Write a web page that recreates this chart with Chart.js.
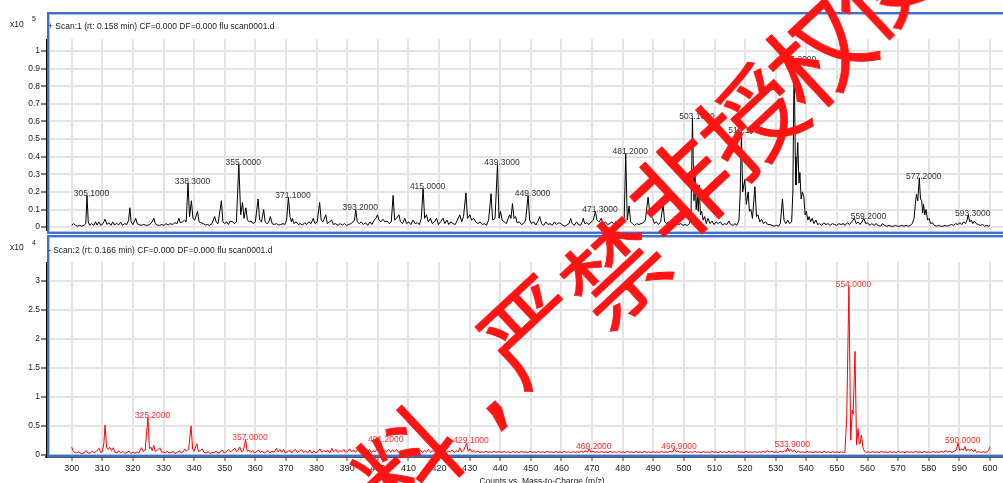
<!DOCTYPE html>
<html><head><meta charset="utf-8">
<script src="https://cdn.jsdelivr.net/npm/chart.js@4"></script>
<style>
html,body{margin:0;padding:0;background:#fff;width:1003px;height:483px;overflow:hidden;}
#wrap{position:relative;width:1003px;height:483px;font-family:"Liberation Sans",Arial,sans-serif;}
canvas{position:absolute;left:0;}
#c1{top:0;} #c2{top:236px;}
.frame{position:absolute;left:47px;width:956px;height:222px;box-sizing:border-box;border:2px solid #3e6fcd;border-right:none;box-shadow:inset 1px 1px 0 #aac3ef, inset 0 -1px 0 #aac3ef;pointer-events:none;}
.txt{position:absolute;white-space:nowrap;font-size:8.5px;color:#222;line-height:1;}
.sup{font-size:7px;}
.wm{position:absolute;font-family:"Noto Sans CJK SC",sans-serif;font-weight:normal;font-size:100px;line-height:1;color:#ff1414;transform:translate(-50%,-50%) rotate(-43deg);white-space:nowrap;pointer-events:none;-webkit-text-stroke:0.8px #ff1414;}
.wm.punct{font-family:"DejaVu Sans",sans-serif;font-size:112px;}
</style>
</head><body>
<div id="wrap">
<canvas id="c1" width="1003" height="236"></canvas>
<canvas id="c2" width="1003" height="247"></canvas>
<div class="frame" style="top:12px"></div>
<div class="frame" style="top:235px"></div>
<div class="txt" style="left:10px;top:20px">x10</div>
<div class="txt sup" style="left:32px;top:15px">5</div>
<div class="txt" style="left:48px;top:22px">+ Scan:1 (rt: 0.158 min) CF=0.000 DF=0.000 flu scan0001.d</div>
<div class="txt" style="left:10px;top:243px">x10</div>
<div class="txt sup" style="left:32px;top:239px">4</div>
<div class="txt" style="left:48px;top:246px">- Scan:2 (rt: 0.166 min) CF=0.000 DF=0.000 flu scan0001.d</div>
<div class="txt" style="left:542px;top:477px;transform:translateX(-50%)">Counts vs. Mass-to-Charge (m/z)</div>
<div id="wmk"></div>
</div>
<script>
// ---------- data ----------
const xTicks = [300,310,320,330,340,350,360,370,380,390,400,410,420,430,440,450,460,470,480,490,500,510,520,530,540,550,560,570,580,590,600];
const scan1YTicks = [0,0.1,0.2,0.3,0.4,0.5,0.6,0.7,0.8,0.9,1];
const scan2YTicks = [0,0.5,1,1.5,2,2.5,3];

// Scan 1: [m/z, counts x10^5]
const scan1Profile = [
[300,0.01],[300.6,0.02],[301.2,0.012],[301.8,0.005],[302.5,0.01],[303.2,0.006],[304,0.01],[304.6,0.02],[305.0,0.18],[305.4,0.03],[305.9,0.01],[306.5,0.02],[307.2,0.01],[307.8,0.03],[308.3,0.012],[308.9,0.03],[309.5,0.01],[310.2,0.02],[310.9,0.045],[311.5,0.015],[312.2,0.025],[312.8,0.01],[313.4,0.03],[314,0.012],[314.7,0.022],[315.3,0.012],[316,0.028],[316.6,0.01],[317.3,0.02],[318,0.015],[318.6,0.04],[319.0,0.11],[319.4,0.03],[320.0,0.015],[320.9,0.05],[321.4,0.02],[322,0.015],[322.7,0.01],[323.4,0.015],[324,0.012],[324.7,0.01],[325.5,0.015],[326.3,0.03],[326.8,0.05],[327.3,0.02],[328,0.012],[328.7,0.01],[329.4,0.015],[330.1,0.01],[330.8,0.02],[331.5,0.012],[332.2,0.02],[333,0.015],[333.7,0.025],[334.4,0.02],[335.0,0.05],[335.5,0.025],[336.2,0.03],[336.8,0.04],[337.4,0.03],[338.0,0.25],[338.5,0.06],[339.1,0.15],[339.6,0.05],[340.2,0.04],[341.1,0.09],[341.6,0.03],[342.2,0.025],[343,0.02],[343.7,0.012],[344.4,0.015],[345,0.01],[345.8,0.02],[346.7,0.06],[347.2,0.03],[347.8,0.02],[348.9,0.15],[349.4,0.03],[350,0.02],[350.6,0.03],[351.2,0.015],[351.8,0.035],[352.6,0.03],[353.2,0.02],[353.8,0.03],[354.6,0.357],[355.2,0.07],[355.8,0.14],[356.3,0.05],[356.9,0.11],[357.4,0.04],[358,0.03],[358.6,0.035],[359.2,0.02],[360.0,0.03],[360.9,0.16],[361.4,0.04],[362,0.03],[362.7,0.10],[363.2,0.03],[363.8,0.02],[364.4,0.03],[364.9,0.06],[365.5,0.02],[366.2,0.015],[366.9,0.02],[367.6,0.012],[368.3,0.015],[369,0.02],[369.6,0.015],[370.2,0.04],[370.8,0.17],[371.3,0.06],[371.8,0.03],[372.1,0.05],[372.6,0.02],[373.3,0.03],[374,0.015],[374.7,0.02],[375.4,0.012],[376.1,0.025],[376.8,0.015],[377.5,0.03],[378.2,0.02],[378.9,0.05],[379.5,0.02],[380.2,0.03],[381.0,0.14],[381.5,0.04],[382.1,0.03],[383.0,0.07],[383.5,0.02],[384.2,0.03],[384.9,0.04],[385.5,0.015],[386.2,0.02],[387,0.01],[387.7,0.02],[388.4,0.012],[389.1,0.02],[389.8,0.01],[390.5,0.015],[391.2,0.02],[391.9,0.03],[392.4,0.04],[392.8,0.10],[393.3,0.03],[393.9,0.02],[394.6,0.03],[395.3,0.015],[396,0.025],[396.7,0.01],[397.4,0.03],[398.1,0.015],[398.8,0.04],[399.4,0.05],[399.9,0.07],[400.4,0.04],[401,0.03],[401.7,0.045],[402.3,0.03],[403,0.035],[403.7,0.02],[404.4,0.03],[405.0,0.18],[405.5,0.04],[406.1,0.05],[406.9,0.07],[407.4,0.03],[408.1,0.02],[408.8,0.05],[409.4,0.02],[410.1,0.03],[410.8,0.015],[411.5,0.04],[412.2,0.02],[412.9,0.025],[413.6,0.015],[414.2,0.05],[414.8,0.22],[415.3,0.05],[415.9,0.07],[416.5,0.03],[417.2,0.05],[417.8,0.02],[418.5,0.03],[419.2,0.05],[419.8,0.015],[420.5,0.03],[421.3,0.05],[421.9,0.02],[422.6,0.04],[423.2,0.015],[423.9,0.03],[424.6,0.02],[425.3,0.015],[426.0,0.04],[426.8,0.07],[427.4,0.03],[428.0,0.06],[428.8,0.195],[429.3,0.05],[430.1,0.07],[430.6,0.04],[431.3,0.05],[432,0.03],[432.7,0.02],[433.4,0.03],[434.1,0.015],[434.8,0.02],[435.5,0.01],[436.2,0.04],[437.0,0.19],[437.5,0.04],[438.3,0.05],[439.1,0.355],[439.6,0.05],[440.1,0.09],[440.6,0.04],[441.3,0.03],[442,0.02],[442.6,0.05],[443.1,0.07],[443.5,0.05],[444.0,0.134],[444.5,0.05],[445.0,0.06],[445.5,0.025],[446.2,0.03],[446.9,0.015],[447.6,0.02],[448.3,0.04],[449.1,0.18],[449.6,0.04],[450.2,0.02],[450.9,0.03],[451.6,0.012],[452.2,0.03],[452.9,0.06],[453.5,0.02],[454.2,0.01],[454.9,0.03],[455.6,0.015],[456.3,0.02],[457,0.01],[457.7,0.03],[458.4,0.015],[459.1,0.025],[459.8,0.02],[460.5,0.01],[461.2,0.005],[461.9,0.015],[462.5,0.02],[463.0,0.05],[463.5,0.02],[464.2,0.01],[464.9,0.03],[465.5,0.015],[466.2,0.01],[466.8,0.03],[467.1,0.05],[467.6,0.02],[468.3,0.025],[469,0.015],[469.7,0.03],[470.4,0.04],[471.1,0.09],[471.6,0.04],[472.3,0.03],[473,0.05],[473.7,0.02],[474.4,0.03],[475.1,0.015],[475.8,0.02],[476.5,0.03],[477.2,0.015],[477.9,0.035],[478.6,0.02],[479.3,0.03],[480.0,0.02],[480.5,0.05],[481.0,0.42],[481.5,0.04],[482.1,0.12],[482.6,0.03],[483.2,0.02],[483.9,0.01],[484.6,0.02],[485.3,0.015],[486,0.02],[486.7,0.025],[487.4,0.04],[488.3,0.17],[488.8,0.09],[489.3,0.06],[489.8,0.05],[490.4,0.02],[491,0.03],[491.7,0.015],[492.4,0.03],[493.2,0.13],[493.7,0.03],[494.4,0.02],[495,0.03],[495.7,0.015],[496.4,0.03],[497.1,0.06],[497.6,0.02],[498.3,0.015],[499,0.02],[499.7,0.01],[500.4,0.015],[501.1,0.01],[501.8,0.02],[502.3,0.05],[502.8,0.62],[503.3,0.15],[503.6,0.33],[504.0,0.10],[504.4,0.18],[504.7,0.09],[505.0,0.24],[505.4,0.07],[505.8,0.09],[506.3,0.04],[506.8,0.06],[507.3,0.02],[507.9,0.05],[508.5,0.02],[509.2,0.035],[509.8,0.015],[510.5,0.03],[511.2,0.02],[511.9,0.03],[512.6,0.012],[513.3,0.02],[514,0.015],[514.7,0.035],[515.3,0.015],[516,0.01],[516.7,0.02],[517.3,0.01],[518.0,0.04],[518.4,0.2],[518.8,0.54],[519.2,0.2],[519.9,0.27],[520.4,0.13],[521.0,0.2],[521.4,0.09],[521.9,0.1],[522.4,0.05],[523.2,0.23],[523.7,0.06],[524.2,0.07],[524.8,0.03],[525.4,0.045],[526,0.02],[526.7,0.03],[527.4,0.015],[528.1,0.015],[528.8,0.01],[529.5,0.005],[530.2,0.01],[530.9,0.005],[531.5,0.02],[532.2,0.16],[532.7,0.04],[533.3,0.02],[533.9,0.04],[534.5,0.02],[535.2,0.03],[535.6,0.2],[536.0,0.94],[536.4,0.4],[536.6,0.24],[537.2,0.48],[537.6,0.25],[537.9,0.31],[538.3,0.16],[538.7,0.2],[539.2,0.17],[539.6,0.07],[540.0,0.09],[540.5,0.04],[540.9,0.06],[541.4,0.03],[541.9,0.05],[542.5,0.02],[543.1,0.04],[543.7,0.015],[544.3,0.02],[545,0.01],[545.7,0.025],[546.4,0.015],[547.1,0.02],[547.8,0.01],[548.5,0.02],[549.2,0.015],[549.9,0.01],[550.6,0.02],[551.3,0.015],[552,0.02],[552.7,0.01],[553.4,0.025],[554.1,0.015],[554.8,0.03],[555.7,0.05],[556.3,0.02],[556.9,0.03],[557.5,0.015],[558.2,0.03],[558.8,0.05],[559.4,0.02],[560,0.025],[560.7,0.01],[561.4,0.02],[562.1,0.01],[562.8,0.02],[563.5,0.01],[564.2,0.005],[564.9,0.02],[565.6,0.01],[566.3,0.005],[567,0.01],[567.7,0.005],[568.4,0.005],[569.1,0.01],[569.8,0.005],[570.5,0.005],[571.2,0.01],[571.9,0.005],[572.6,0.01],[573.3,0.005],[574,0.01],[574.6,0.02],[575.2,0.05],[575.6,0.13],[576.0,0.186],[576.4,0.15],[576.9,0.28],[577.3,0.16],[577.7,0.15],[578.0,0.08],[578.3,0.13],[578.7,0.07],[579.1,0.10],[579.6,0.04],[580.1,0.05],[580.6,0.02],[581.2,0.025],[581.8,0.01],[582.5,0.005],[583.2,0.01],[583.9,0.005],[584.6,0.005],[585.3,0.01],[586,0.005],[586.7,0.01],[587.4,0.015],[588.1,0.01],[588.8,0.02],[589.5,0.015],[590.2,0.025],[590.8,0.015],[591.4,0.03],[592.0,0.02],[592.5,0.04],[592.9,0.07],[593.4,0.03],[593.9,0.04],[594.4,0.02],[594.9,0.035],[595.5,0.02],[596.2,0.015],[596.9,0.01],[597.6,0.015],[598.3,0.005],[599,0.01],[599.6,0.005],[600,0.01]
];
const scan1LabelText = ['305.1000','338.3000','355.0000','371.1000','393.2000','415.0000','439.3000','449.3000','471.3000','481.2000','503.1000','519.1000','536.2000','559.2000','577.2000','593.3000'];
const scan1LabelMz   = [305.0,338.0,354.6,370.8,392.8,414.8,439.1,449.1,471.1,481.0,502.8,518.8,536.0,558.8,576.9,592.9];
const scan1LabelVal  = [0.18,0.25,0.357,0.17,0.10,0.22,0.355,0.18,0.09,0.42,0.62,0.54,0.94,0.05,0.28,0.07];

// Scan 2: [m/z, counts x10^4]
const scan2Profile = [
[300,0.13],[300.4,0.07],[300.9,0.04],[301.5,0.03],[302.1,0.05],[302.7,0.03],[303.3,0.02],[304,0.03],[304.7,0.07],[305.3,0.03],[306,0.025],[306.7,0.06],[307.3,0.03],[308.1,0.06],[308.9,0.11],[309.4,0.04],[310.0,0.05],[310.5,0.2],[310.9,0.51],[311.4,0.12],[311.9,0.09],[312.4,0.13],[313.0,0.07],[313.6,0.12],[314.1,0.04],[314.8,0.03],[315.4,0.07],[316,0.03],[316.7,0.06],[317.3,0.02],[318,0.04],[318.7,0.06],[319.3,0.02],[320,0.04],[320.7,0.025],[321.3,0.05],[321.9,0.03],[322.8,0.12],[323.4,0.05],[324.0,0.08],[324.9,0.645],[325.4,0.1],[325.9,0.13],[326.3,0.07],[326.8,0.16],[327.3,0.06],[327.9,0.07],[328.8,0.12],[329.4,0.04],[330,0.05],[330.6,0.03],[331.2,0.06],[331.8,0.03],[332.5,0.04],[333.2,0.06],[333.8,0.02],[334.5,0.04],[335.2,0.07],[335.8,0.03],[336.4,0.05],[336.9,0.1],[337.5,0.06],[338.2,0.1],[339.0,0.495],[339.5,0.1],[340.0,0.06],[340.9,0.19],[341.4,0.05],[342.0,0.07],[342.7,0.1],[343.2,0.04],[343.9,0.03],[344.6,0.05],[345.2,0.02],[345.9,0.04],[346.5,0.03],[347.2,0.06],[347.8,0.03],[348.5,0.04],[349.2,0.08],[349.8,0.03],[350.5,0.05],[351.2,0.09],[351.8,0.05],[352.4,0.07],[353.3,0.11],[353.9,0.05],[354.4,0.08],[354.9,0.13],[355.5,0.05],[356.1,0.07],[356.8,0.27],[357.3,0.06],[357.9,0.08],[358.5,0.04],[359.1,0.07],[359.7,0.03],[360.3,0.05],[361,0.08],[361.6,0.04],[362.2,0.06],[362.9,0.03],[363.5,0.05],[364.1,0.07],[364.8,0.03],[365.4,0.06],[366.1,0.04],[366.9,0.11],[367.4,0.05],[368,0.09],[368.6,0.04],[369.2,0.09],[369.8,0.03],[370.5,0.05],[371.2,0.08],[371.8,0.03],[372.5,0.07],[373.1,0.09],[373.7,0.04],[374.4,0.06],[375.1,0.09],[375.7,0.04],[376.4,0.06],[377.1,0.03],[377.8,0.08],[378.4,0.03],[379.1,0.06],[379.8,0.03],[380.5,0.06],[381.1,0.1],[381.7,0.04],[382.4,0.07],[383.1,0.05],[383.7,0.08],[384.3,0.03],[385,0.11],[385.6,0.05],[386.3,0.09],[386.9,0.04],[387.6,0.07],[388.2,0.05],[388.9,0.09],[389.5,0.04],[390.2,0.06],[390.8,0.1],[391.4,0.05],[392.1,0.08],[392.7,0.04],[393.4,0.09],[394,0.05],[394.7,0.07],[395.3,0.04],[396,0.08],[396.6,0.05],[397.3,0.09],[397.9,0.04],[398.6,0.07],[399.2,0.05],[399.8,0.1],[400.4,0.06],[401.1,0.2],[401.6,0.06],[402.2,0.08],[402.9,0.05],[403.5,0.09],[404.2,0.04],[404.8,0.08],[405.5,0.05],[406.1,0.09],[406.8,0.04],[407.4,0.07],[408.1,0.05],[408.7,0.08],[409.4,0.04],[410,0.07],[410.7,0.05],[411.3,0.09],[412,0.04],[412.6,0.07],[413.3,0.05],[413.9,0.08],[414.6,0.04],[415.2,0.07],[415.9,0.05],[416.5,0.09],[417.2,0.04],[417.8,0.07],[418.5,0.05],[419.1,0.06],[419.8,0.04],[420.4,0.06],[421.1,0.04],[421.7,0.07],[422.4,0.04],[423,0.06],[423.7,0.05],[424.3,0.08],[425,0.04],[425.6,0.07],[426.3,0.05],[426.8,0.12],[427.4,0.05],[428.1,0.08],[429.0,0.2],[429.5,0.06],[430.1,0.1],[430.7,0.05],[431.4,0.07],[432,0.04],[432.7,0.06],[433.3,0.04],[434,0.05],[434.6,0.04],[435.3,0.06],[436,0.04],[436.6,0.05],[437.3,0.04],[437.9,0.06],[438.6,0.04],[439.2,0.05],
[440,0.05],[440.6,0.04],[441.3,0.06],[442,0.04],[442.7,0.05],[443.4,0.035],[444.1,0.06],[444.8,0.04],[445.5,0.05],[446.2,0.035],[446.9,0.06],[447.6,0.04],[448.3,0.05],[449,0.035],[449.7,0.06],[450.4,0.04],[451.1,0.05],[451.8,0.035],[452.5,0.055],[453.2,0.04],[453.9,0.05],[454.6,0.035],[455.3,0.06],[456,0.04],[456.7,0.05],[457.4,0.035],[458.1,0.055],[458.8,0.04],[459.5,0.05],[460.2,0.035],[460.9,0.06],[461.6,0.04],[462.3,0.05],[463,0.035],[463.7,0.055],[464.4,0.04],[465.1,0.05],[465.8,0.04],[466.5,0.06],[467.2,0.04],[467.9,0.07],[468.5,0.045],[469.1,0.1],[469.6,0.045],[470.3,0.06],[471,0.04],[471.7,0.05],[472.4,0.035],[473.1,0.055],[473.8,0.04],[474.5,0.05],[475.2,0.035],[475.9,0.06],[476.6,0.04],[477.3,0.05],[478,0.035],[478.7,0.055],[479.4,0.04],[480.1,0.05],[480.8,0.035],[481.5,0.06],[482.2,0.04],[482.9,0.05],[483.6,0.035],[484.3,0.055],[485,0.04],[485.7,0.05],[486.4,0.035],[487.1,0.06],[487.8,0.04],[488.5,0.05],[489.2,0.035],[489.9,0.055],[490.6,0.04],[491.3,0.05],[492,0.035],[492.7,0.06],[493.4,0.04],[494.1,0.05],[494.8,0.04],[495.5,0.06],[496.2,0.045],[496.9,0.1],[497.4,0.05],[498,0.07],[498.6,0.04],[499.3,0.05],[500,0.035],[500.7,0.055],[501.4,0.04],[502.1,0.05],[502.8,0.035],[503.5,0.06],[504.2,0.04],[504.9,0.05],[505.6,0.035],[506.3,0.055],[507,0.04],[507.7,0.05],[508.4,0.035],[509.1,0.06],[509.8,0.04],[510.5,0.05],[511.2,0.035],[511.9,0.055],[512.6,0.04],[513.3,0.05],[514,0.035],[514.7,0.06],[515.4,0.04],[516.1,0.05],[516.8,0.035],[517.5,0.06],[518.2,0.04],[518.9,0.05],[519.6,0.035],[520.3,0.06],[521,0.04],[521.7,0.05],[522.4,0.035],[523.1,0.055],[523.8,0.04],[524.5,0.05],[525.2,0.04],[525.9,0.06],[526.6,0.04],[527.3,0.07],[528,0.045],[528.7,0.06],[529.4,0.04],[530.1,0.05],[530.8,0.04],[531.5,0.06],[532.2,0.045],[532.9,0.07],[533.4,0.05],[533.9,0.12],[534.4,0.06],[535,0.09],[535.5,0.05],[536.1,0.08],[536.7,0.04],[537.4,0.06],[538.1,0.04],[538.8,0.05],[539.5,0.035],[540.2,0.06],[540.9,0.04],[541.6,0.05],[542.3,0.035],[543,0.055],[543.7,0.04],[544.4,0.05],[545.1,0.035],[545.8,0.06],[546.5,0.04],[547.2,0.05],[547.9,0.035],[548.6,0.055],[549.3,0.04],[550,0.05],[550.7,0.035],[551.4,0.05],[552.1,0.04],[552.6,0.04],
[553.2,0.65],[553.9,2.9],[554.5,0.25],[554.8,0.55],[555.0,0.77],[555.3,0.7],[555.9,1.78],[556.4,0.17],[556.9,0.45],[557.3,0.18],[557.6,0.2],[558.0,0.34],[558.5,0.12],[559,0.06],[559.6,0.04],[560.3,0.05],[561,0.035],[561.7,0.055],[562.4,0.04],[563.1,0.05],[563.8,0.035],[564.5,0.06],[565.2,0.04],[565.9,0.05],[566.6,0.035],[567.3,0.055],[568,0.04],[568.7,0.05],[569.4,0.035],[570.1,0.06],[570.8,0.04],[571.5,0.05],[572.2,0.035],[572.9,0.055],[573.6,0.04],[574.3,0.05],[575,0.035],[575.7,0.06],[576.4,0.04],[577.1,0.05],[577.8,0.035],[578.5,0.055],[579.2,0.04],[579.9,0.05],[580.6,0.035],[581.3,0.06],[582,0.04],[582.7,0.05],[583.4,0.04],[584.1,0.06],[584.8,0.04],[585.5,0.07],[586.2,0.045],[586.9,0.06],[587.6,0.04],[588.3,0.06],[589.0,0.08],[589.6,0.2],[590.1,0.07],[590.8,0.1],[591.3,0.08],[591.8,0.14],[592.3,0.06],[592.9,0.1],[593.4,0.07],[594.0,0.09],[594.6,0.05],[595.1,0.09],[595.6,0.04],[596.3,0.05],[597,0.04],[597.7,0.05],[598.4,0.04],[599.1,0.05],[599.6,0.08],[600,0.14]
];
const scan2LabelText = ['325.2000','357.0000','401.2000','429.1000','469.2000','496.9000','533.9000','554.0000','590.0000'];
const scan2LabelMz   = [324.9,356.8,401.1,429.0,469.1,496.9,533.9,553.9,589.6];
const scan2LabelVal  = [0.645,0.27,0.24,0.21,0.12,0.11,0.14,2.91,0.22];

// ---------- rendering ----------
const FONT = '"Liberation Sans", Arial, sans-serif';
const peakLabels = {
  id: 'peakLabels',
  afterDatasetsDraw(chart, args, o) {
    const ctx = chart.ctx, xs = chart.scales.x, ys = chart.scales.y;
    ctx.save();
    ctx.font = '8.5px ' + FONT;
    ctx.fillStyle = o.color;
    ctx.textAlign = 'center';
    ctx.textBaseline = 'middle';
    o.text.forEach((t, i) => {
      ctx.fillText(t, xs.getPixelForValue(o.mz[i]) + 4.5, ys.getPixelForValue(o.val[i]) - 1.5);
    });
    ctx.restore();
  }
};

function makeChart(id, profile, color, yMin, yMax, yTicks, padTop, xHeight, showX, lbl) {
  return new Chart(document.getElementById(id), {
    type: 'line',
    data: { datasets: [{ data: profile.map(p => ({ x: p[0], y: p[1] })), borderColor: color, borderWidth: 1, pointRadius: 0, tension: 0, fill: false }] },
    options: {
      responsive: false, animation: false, devicePixelRatio: 1,
      layout: { padding: { left: 0, right: 0, top: padTop, bottom: 0 } },
      plugins: { legend: { display: false }, tooltip: { enabled: false }, peakLabels: lbl },
      scales: {
        x: {
          type: 'linear', min: 291.6, max: 604.25,
          afterBuildTicks: s => { s.ticks = xTicks.map(v => ({ value: v })); },
          afterFit: s => { s.height = xHeight; },
          grid: { color: '#e4e4e4', lineWidth: 2, drawTicks: showX, tickLength: 4, tickColor: '#444', tickWidth: 1 },
          border: { display: showX, color: '#555', width: 2 },
          ticks: { display: showX, autoSkip: false, maxRotation: 0, padding: 2, color: '#222', font: { family: FONT, size: 9 }, callback: v => String(v) }
        },
        y: {
          min: yMin, max: yMax,
          afterBuildTicks: s => { s.ticks = yTicks.map(v => ({ value: v })); },
          afterFit: s => { s.width = 46; },
          grid: { color: '#e4e4e4', lineWidth: 2, drawTicks: true, tickLength: 5, tickColor: '#000', tickWidth: 1 },
          border: { display: true, color: '#000', width: 1 },
          ticks: { padding: 1, color: '#222', font: { family: FONT, size: 8.5 }, callback: v => String(v) }
        }
      }
    },
    plugins: [peakLabels]
  });
}

makeChart('c1', scan1Profile, '#000000', -0.0156, 1.0682, scan1YTicks, 39, 3, false,
  { text: scan1LabelText, mz: scan1LabelMz, val: scan1LabelVal, color: '#333' });
makeChart('c2', scan2Profile, '#ff0000', -0.0397, 3.3224, scan2YTicks, 26, 26, true,
  { text: scan2LabelText, mz: scan2LabelMz, val: scan2LabelVal, color: '#ff3030' });

// watermark characters (text overlay)
const wmChars = ['料',',','严','禁','非','授','权','使'];
const wmPos = [[405,458],[473,387],[528,326],[612,268],[678,187],[748,117],[815,50],[878,-20]];
const wmk = document.getElementById('wmk');
wmChars.forEach((c, i) => {
  const d = document.createElement('div');
  d.className = c === ',' ? 'wm punct' : 'wm';
  d.textContent = c;
  d.style.left = wmPos[i][0] + 'px';
  d.style.top = wmPos[i][1] + 'px';
  wmk.appendChild(d);
});
</script>
</body></html>
